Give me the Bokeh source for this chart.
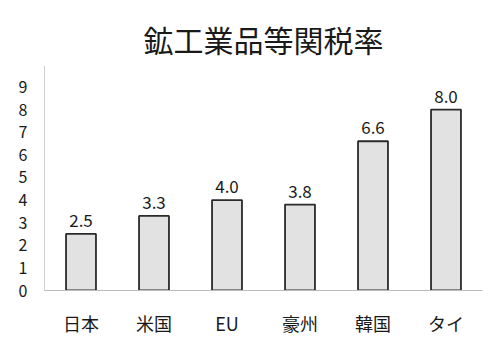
from bokeh.plotting import figure
from bokeh.models import ColumnDataSource, FixedTicker, Range1d
from bokeh.core.properties import value
from bokeh.embed import file_html
from bokeh.resources import INLINE

categories = ["日本", "米国", "EU", "豪州", "韓国", "タイ"]
rates = [2.5, 3.3, 4.0, 3.8, 6.6, 8.0]
labels = ["2.5", "3.3", "4.0", "3.8", "6.6", "8.0"]
y_ticks = [0, 1, 2, 3, 4, 5, 6, 7, 8, 9]

FONT = "Noto Sans CJK JP"

src = ColumnDataSource(dict(cat=categories, rate=rates, label=labels))

p = figure(x_range=categories, y_range=Range1d(0, 9.95), width=483, height=339,
           output_backend="svg", toolbar_location=None,
           min_border_left=44, min_border_right=1, min_border_bottom=49, min_border_top=65,
           title="鉱工業品等関税率")
p.title.text_font = FONT
p.title.text_font_size = "30px"
p.title.text_font_style = "normal"
p.title.align = "center"
p.title.text_color = "#1a1a1a"
p.title.offset = 0

p.vbar(x="cat", top="rate", width=0.41, source=src,
       fill_color="#e2e2e2", line_color="#2a2a2a", line_width=1.8)

p.text(x="cat", y="rate", text="label", source=src, text_align="center",
       text_baseline="bottom", y_offset=-7, text_font=value(FONT),
       text_font_size="17px", text_color="#1a1a1a")

p.xgrid.grid_line_color = None
p.ygrid.grid_line_color = None
p.outline_line_color = None

p.yaxis.ticker = FixedTicker(ticks=y_ticks)
p.yaxis.major_label_standoff = 11
p.yaxis.major_label_text_font = FONT
p.yaxis.major_label_text_font_size = "16px"
p.yaxis.major_label_text_color = "#1a1a1a"
p.yaxis.axis_line_color = "#d0d0d0"
p.yaxis.major_tick_line_color = None
p.yaxis.minor_tick_line_color = None

p.xaxis.major_label_standoff = 13
p.xaxis.major_label_text_font = FONT
p.xaxis.major_label_text_font_size = "18px"
p.xaxis.major_label_text_color = "#1a1a1a"
p.xaxis.axis_line_color = "#bbbbbb"
p.xaxis.major_tick_line_color = None
p.xaxis.minor_tick_line_color = None

p.x_range.range_padding = 0

open("out.html", "w").write(file_html(p, INLINE))
